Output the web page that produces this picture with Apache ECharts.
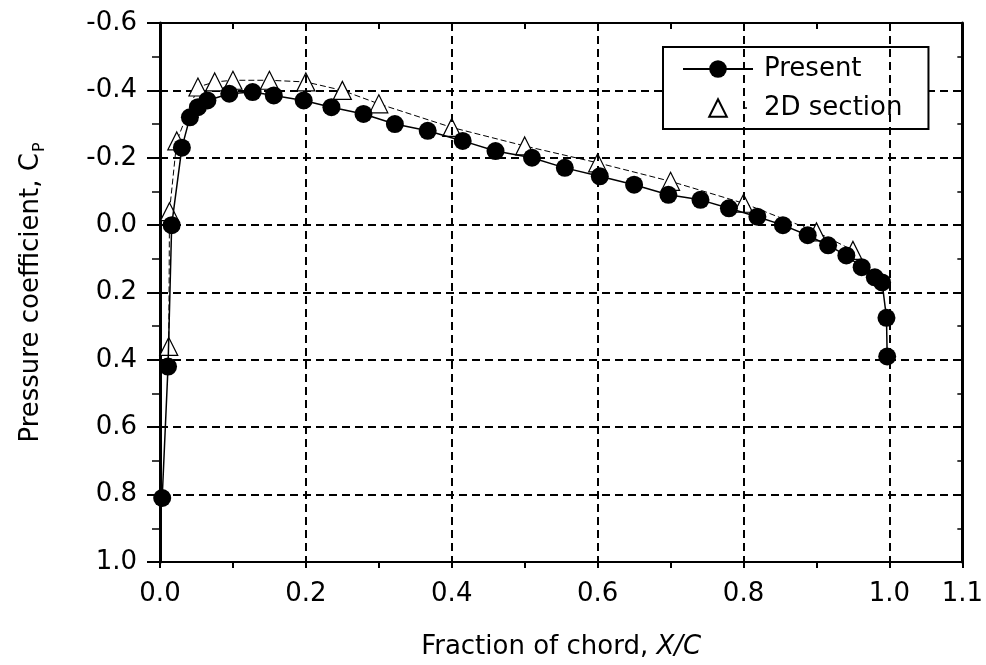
<!DOCTYPE html>
<html>
<head>
<meta charset="utf-8">
<script src="https://cdn.jsdelivr.net/npm/echarts@6/dist/echarts.min.js"></script>
<style>
html, body { margin: 0; padding: 0; background: #fff; }
#cp-plot { width: 986px; height: 665px; }
</style>
</head>
<body>
<div id="cp-plot"></div>
<script>
// chord fraction / pressure coefficient
var presentX = [0.003, 0.011, 0.016, 0.030, 0.041, 0.052, 0.065, 0.095, 0.127, 0.156, 0.197, 0.235,
    0.279, 0.322, 0.367, 0.415, 0.460, 0.510, 0.555, 0.603, 0.650, 0.697, 0.741, 0.780, 0.819,
    0.854, 0.888, 0.916, 0.941, 0.962, 0.980, 0.990, 0.996, 0.997];
var presentCp = [0.81, 0.42, 0.0, -0.23, -0.32, -0.35, -0.37, -0.39, -0.395, -0.385, -0.37, -0.35,
    -0.33, -0.30, -0.28, -0.25, -0.22, -0.20, -0.17, -0.145, -0.12, -0.09, -0.075, -0.05, -0.025,
    0.0, 0.03, 0.06, 0.09, 0.125, 0.155, 0.17, 0.275, 0.39];

var sectionX = [0.012, 0.013, 0.023, 0.052, 0.075, 0.10, 0.15, 0.20, 0.25, 0.30, 0.40, 0.50,
    0.60, 0.70, 0.80, 0.90, 0.95];
var sectionCp = [0.36, -0.04, -0.25, -0.41, -0.425, -0.43, -0.43, -0.425, -0.40, -0.36, -0.29, -0.235,
    -0.185, -0.13, -0.065, 0.02, 0.075];

var xRange = [0, 1.1];
var yRange = [-0.6, 1.0];
var xGrid = [0.2, 0.4, 0.6, 0.8, 1.0];
var legendNames = ['Present', '2D section'];

function pairs(xs, ys){
    var d = [];
    for (var i = 0; i < xs.length; i++) {
        d.push([xs[i], ys[i]]);
    }
    return d;
}

var font = 'DejaVu Sans';
var gridLine = { color: '#000', type: [8, 5], width: 2 };

function xAxis(pos){
    var bottom = pos == 'bottom';
    return {
        type: 'value', position: pos, min: xRange[0], max: xRange[1], interval: 0.1,
        axisLine: { show: true, onZero: false, lineStyle: { color: '#000', width: 2 } },
        axisTick: { show: true, inside: !bottom, length: 6, lineStyle: { color: '#000', width: 2 } },
        splitLine: { show: false },
        axisLabel: {
            show: bottom, margin: 19, color: '#000', fontFamily: font, fontSize: 26,
            formatter: function(v){
                var k = Math.round(v * 10);
                return (k % 2 == 0 || k == 11) ? v.toFixed(1) : '';
            }
        },
        name: bottom ? 'Fraction of chord, {i|X/C}' : '',
        nameLocation: 'middle', nameGap: 72,
        nameTextStyle: {
            color: '#000', fontFamily: font, fontSize: 26,
            rich: { i: { fontStyle: 'italic', fontFamily: font, fontSize: 26, color: '#000' } }
        }
    };
}

function yAxis(pos){
    var left = pos == 'left';
    return {
        type: 'value', position: pos, inverse: true, min: yRange[0], max: yRange[1], interval: 0.2,
        axisLine: { show: true, onZero: false, lineStyle: { color: '#000', width: 3 } },
        axisTick: { show: true, inside: !left, length: left ? 13 : 6, lineStyle: { color: '#000', width: 2 } },
        minorTick: { show: true, splitNumber: 2, length: left ? 8 : 5, lineStyle: { color: '#000', width: 1.5 } },
        splitLine: { show: left, lineStyle: gridLine },
        axisLabel: {
            show: left, margin: 23, color: '#000', fontFamily: font, fontSize: 26,
            formatter: function(v){ return v.toFixed(1); }
        },
        name: left ? '{a|Pressure coefficient, C}{s|P}' : '',
        nameLocation: 'middle', nameGap: 116,
        nameTextStyle: {
            rich: {
                a: { fontFamily: font, fontSize: 26, color: '#000' },
                s: { fontFamily: font, fontSize: 16, color: '#000', verticalAlign: 'bottom', padding: [0, 0, -4, 1] }
            }
        }
    };
}

var canvas = echarts.init(document.getElementById('cp-plot'), null, { renderer: 'canvas' });
var option = {
    animation: false,
    backgroundColor: '#fff',
    grid: { left: 160, right: 18, top: 23, bottom: 103, containLabel: false },
    legend: {
        orient: 'vertical', left: 663, top: 47,
        padding: [9, 26, 8, 19],
        itemWidth: 70, itemHeight: 22, itemGap: 13,
        backgroundColor: '#fff', borderColor: '#000', borderWidth: 2, borderRadius: 0,
        textStyle: { color: '#000', fontFamily: font, fontSize: 26, padding: [0, 0, 0, 6] },
        data: [
            { name: legendNames[0] },
            { name: legendNames[1], lineStyle: { type: [2, 200], dashOffset: -62, width: 1.5 } }
        ]
    },
    xAxis: [xAxis('bottom'), xAxis('top')],
    yAxis: [yAxis('left'), yAxis('right')],
    series: [
        {
            // vertical grid lines every 0.2
            name: 'grid', type: 'line', data: [], silent: true, z: 1,
            markLine: {
                silent: true, symbol: 'none', label: { show: false },
                lineStyle: gridLine,
                data: xGrid.map(function(v){ return { xAxis: v }; })
            }
        },
        {
            name: legendNames[1], type: 'line', xAxisIndex: 0, yAxisIndex: 0,
            data: pairs(sectionX, sectionCp),
            symbol: 'triangle', symbolSize: 18,
            itemStyle: { color: '#fff', borderColor: '#000', borderWidth: 1.2 },
            lineStyle: { color: '#000', width: 1, type: [6, 3] },
            z: 3
        },
        {
            name: legendNames[0], type: 'line', xAxisIndex: 0, yAxisIndex: 0,
            data: pairs(presentX, presentCp),
            symbol: 'circle', symbolSize: 18,
            itemStyle: { color: '#000' },
            lineStyle: { color: '#000', width: 1.5 },
            z: 4
        }
    ]
};
canvas.setOption(option);
</script>
</body>
</html>
